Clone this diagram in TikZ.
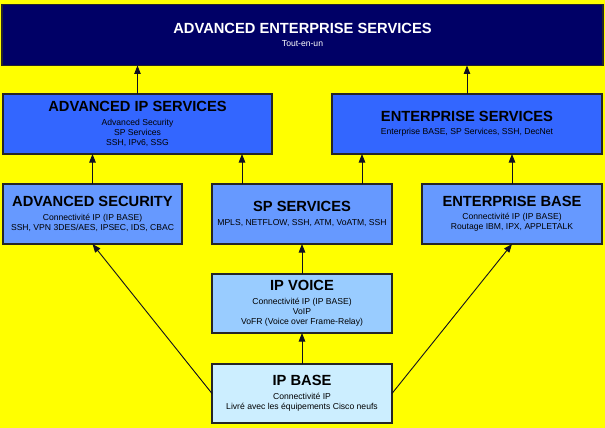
\documentclass[tikz,border=0pt]{standalone}
\usepackage{fontspec}
\setmainfont{Liberation Sans}
\usetikzlibrary{arrows.meta}
\definecolor{bgyellow}{HTML}{FFFF00}
\definecolor{navybox}{HTML}{000066}
\definecolor{bluebox}{HTML}{3366FF}
\definecolor{midbox}{HTML}{6699FF}
\definecolor{lightbox}{HTML}{99CCFF}
\definecolor{palebox}{HTML}{CCEEFF}
\definecolor{edgecol}{HTML}{262626}
\definecolor{arrowcol}{HTML}{101020}
\newcommand{\ttl}[1]{{\fontsize{14.7}{14}\selectfont\bfseries #1}\\[3.5pt]}
\tikzset{
  box/.style={draw=edgecol, line width=1.2pt, inner sep=0pt, outer sep=0pt,
    align=center, font=\fontsize{8.6}{10}\selectfont, text=black},
  conn/.style={draw=arrowcol, line width=0.9pt, -{Triangle[length=8.5pt,width=6.5pt]}},
}
\begin{document}
\begin{tikzpicture}[x=1pt,y=-1pt]
\fill[bgyellow] (0,0) rectangle (605,428);
\useasboundingbox (0,0) rectangle (605,428);

\node[box, fill=navybox, text=white, minimum width=601pt, minimum height=61pt] (top) at (302.5,35)
  {\ttl{ADVANCED ENTERPRISE SERVICES}Tout-en-un};

\node[box, fill=bluebox, minimum width=269pt, minimum height=60pt] (aip) at (137.5,124)
  {\ttl{ADVANCED IP SERVICES}Advanced Security\\SP Services\\SSH, IPv6, SSG};
\node[box, fill=bluebox, minimum width=270pt, minimum height=60pt] (es) at (467,124)
  {\ttl{ENTERPRISE SERVICES}Enterprise BASE, SP Services, SSH, DecNet};

\node[box, fill=midbox, minimum width=179pt, minimum height=60pt] (asec) at (92.5,214)
  {\ttl{ADVANCED SECURITY}Connectivité IP (IP BASE)\\SSH, VPN 3DES/AES, IPSEC, IDS, CBAC};
\node[box, fill=midbox, minimum width=180pt, minimum height=60pt] (sps) at (302,214)
  {\ttl{SP SERVICES}MPLS, NETFLOW, SSH, ATM, VoATM, SSH};
\node[box, fill=midbox, minimum width=180pt, minimum height=60pt] (eb) at (512,214)
  {\ttl{ENTERPRISE BASE}Connectivité IP (IP BASE)\\Routage IBM, IPX, APPLETALK};

\node[box, fill=lightbox, minimum width=180pt, minimum height=59pt] (ipv) at (302,303.5)
  {\ttl{IP VOICE}Connectivité IP (IP BASE)\\VoIP\\VoFR (Voice over Frame-Relay)};
\node[box, fill=palebox, minimum width=180pt, minimum height=59pt] (ipb) at (302,393.5)
  {\ttl{IP BASE}Connectivité IP\\Livré avec les équipements Cisco neufs};

% connectors
\draw[conn] (aip.north) -- (aip.north |- top.south);
\draw[conn] (es.north) -- (es.north |- top.south);
\draw[conn] (asec.north) -- (asec.north |- aip.south);
\draw[conn] ([xshift=-60pt]sps.north) -- ([xshift=-60pt]sps.north |- aip.south);
\draw[conn] ([xshift=60pt]sps.north) -- ([xshift=60pt]sps.north |- es.south);
\draw[conn] (eb.north) -- (eb.north |- es.south);
\draw[conn] (ipv.north) -- (sps.south);
\draw[conn] (ipb.north) -- (ipv.south);
\draw[conn] (ipb.west) -- (asec.south);
\draw[conn] (ipb.east) -- (eb.south);
\end{tikzpicture}
\end{document}
